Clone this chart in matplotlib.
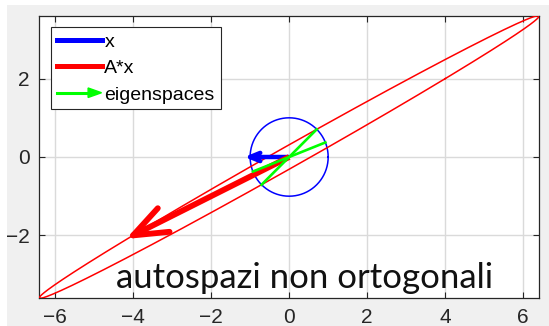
import numpy as np
import matplotlib
matplotlib.use('Agg')
import matplotlib.pyplot as plt
from matplotlib.lines import Line2D
from matplotlib.patches import Polygon, Rectangle
from matplotlib.legend_handler import HandlerBase

# matrix and test vector
A = np.array([[4.0, -5.0],
              [2.0, -3.0]])
x_vec = np.array([-1.0, 0.0])
Ax_vec = A @ x_vec

xticks = [-6, -4, -2, 0, 2, 4, 6]
yticks = [-2, 0, 2]
legend_labels = ['x', 'A*x', 'eigenspaces']
caption = 'autospazi non ortogonali'

# unit circle and its image under A
t = np.linspace(0, 2 * np.pi, 721)
circle = np.vstack([np.cos(t), np.sin(t)])
ellipse = A @ circle

# eigenvectors (unit length)
evals, evecs = np.linalg.eig(A)

plt.rcParams['font.family'] = ['Liberation Sans', 'DejaVu Sans']

fig = plt.figure(figsize=(5.49, 3.26), dpi=100, facecolor='white')
fig.patches.append(Rectangle((7 / 549, 0), 1, 1 - 5 / 326, transform=fig.transFigure,
                             facecolor='#f0f0f0', edgecolor='none', zorder=-10))
ax = fig.add_axes([39.3 / 549, 1 - 298.3 / 326, 499.7 / 549, 282.6 / 326])


def matlab_arrow(ax, vec, color, lw, head=0.22, angle=20):
    # shaft plus two wing lines, like quiver in MATLAB
    ax.plot([0, vec[0]], [0, vec[1]], color=color, lw=lw, solid_capstyle='butt', zorder=4)
    L = np.hypot(*vec)
    back = -vec / L * head * L
    for s in (1, -1):
        a = np.deg2rad(s * angle)
        rot = np.array([[np.cos(a), -np.sin(a)], [np.sin(a), np.cos(a)]])
        w = rot @ back
        ax.plot([vec[0], vec[0] + w[0]], [vec[1], vec[1] + w[1]], color=color, lw=lw,
                solid_capstyle='round', zorder=4)


ax.plot(circle[0], circle[1], color='#0000ff', lw=1.1, zorder=3)
ax.plot(ellipse[0], ellipse[1], color='#ff0000', lw=1.1, zorder=3)
matlab_arrow(ax, x_vec, '#0000ff', 3.2, head=0.28, angle=22)
matlab_arrow(ax, Ax_vec, '#ff0000', 4.2, head=0.21, angle=21)
for k in range(2):
    v = evecs[:, k]
    ax.plot([-v[0], v[0]], [-v[1], v[1]], color='#00ff00', lw=1.9, zorder=5)

xm = np.abs(ellipse[0]).max()
ym = np.abs(ellipse[1]).max()
ax.set_xlim(-xm, xm)
ax.set_ylim(-ym, ym)
ax.set_xticks(xticks)
ax.set_yticks(yticks)
ax.grid(True, color='#dadada', lw=1.0)
ax.set_axisbelow(True)
ax.tick_params(direction='in', length=4, width=0.8, top=True, right=True,
               labelsize=15, colors='#262626', pad=7)
for sp in ax.spines.values():
    sp.set_color('#262626')
    sp.set_linewidth(0.9)


class ArrowHandler(HandlerBase):
    def create_artists(self, legend, orig_handle, xdescent, ydescent, width, height,
                       fontsize, trans):
        y = height / 2 - ydescent
        x0, x1 = -xdescent, width - xdescent
        hl = 0.3 * width
        hh = 0.35 * height
        line = Line2D([x0, x1 - hl * 0.5], [y, y], color='#00ff00', lw=2.2, transform=trans)
        tip = Polygon([[x1, y], [x1 - hl, y + hh], [x1 - hl, y - hh]], closed=True,
                      facecolor='#00ff00', edgecolor='#00ff00', transform=trans)
        return [line, tip]


h_x = Line2D([], [], color='#0000ff', lw=3.6)
h_ax = Line2D([], [], color='#ff0000', lw=3.6)
h_eig = object()
leg = ax.legend([h_x, h_ax, h_eig], legend_labels, loc='upper left',
                handler_map={h_eig: ArrowHandler()},
                fontsize=14, handlelength=2.3, handletextpad=0.15, borderpad=0.3,
                borderaxespad=0.6, labelspacing=0.45, fancybox=False, framealpha=1,
                edgecolor='#262626')
leg.get_frame().set_linewidth(0.8)

fig.text(116 / 549, 1 - 288 / 326, caption, fontsize=25, family='Lato',
         color='#111111', va='baseline', ha='left')

fig.savefig('out.png', dpi=100, facecolor=fig.get_facecolor())
